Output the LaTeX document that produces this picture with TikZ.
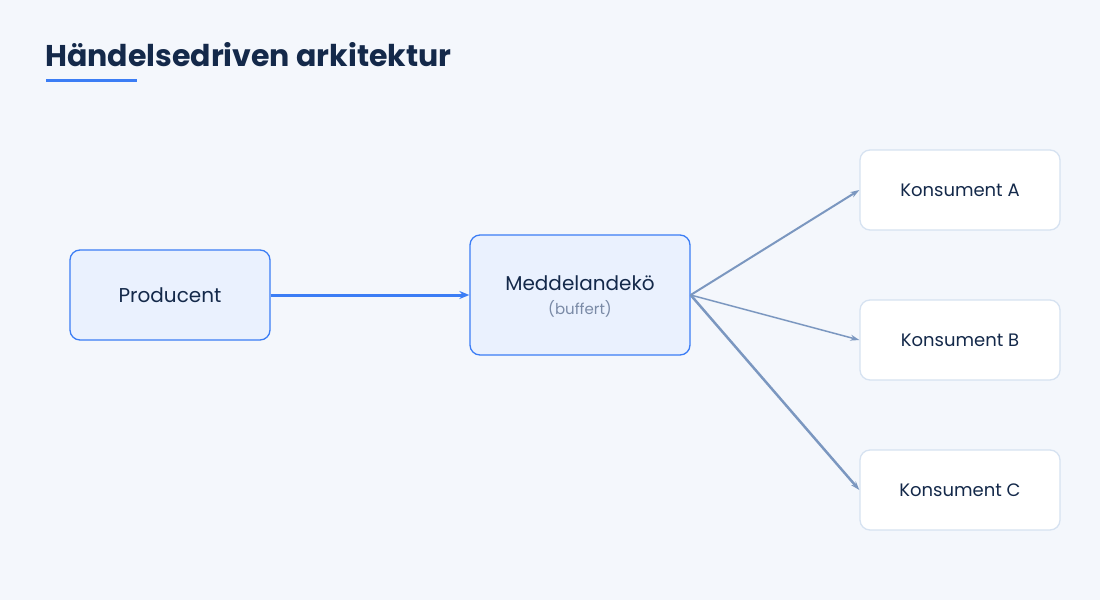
\documentclass[tikz,border=0pt]{standalone}
\usepackage{fontspec}
\setmainfont{Poppins}
\usetikzlibrary{arrows.meta}
\definecolor{bgcol}{HTML}{F4F7FC}
\definecolor{inkcol}{HTML}{14294A}
\definecolor{bluecol}{HTML}{3B7DF5}
\definecolor{bluefill}{HTML}{EAF1FE}
\definecolor{greycol}{HTML}{7A8AA6}
\definecolor{edgecol}{HTML}{7B97C0}
\definecolor{lightcol}{HTML}{D6E2F1}
\tikzset{
  mainbox/.style={draw=bluecol, fill=bluefill, line width=1.3pt, rounded corners=10pt, text=inkcol},
  consbox/.style={draw=lightcol, fill=white, line width=1.3pt, rounded corners=10pt, text=inkcol,
    minimum width=200pt, minimum height=80pt, font=\fontsize{18}{21}\selectfont},
  fanout/.style={draw=edgecol, -{Stealth[length=9pt,width=6pt]}}
}
\begin{document}
\begin{tikzpicture}[x=1pt,y=-1pt]
\fill[bgcol] (0,0) rectangle (1100,600);
\useasboundingbox (0,0) rectangle (1100,600);
\node[anchor=base west, text=inkcol, font=\fontsize{30}{34}\bfseries\selectfont, inner sep=0pt] (title) at (45,66) {Händelsedriven arkitektur};
\fill[bluecol] (46,79) rectangle (137,82);

\node[mainbox, minimum width=200pt, minimum height=90pt, font=\fontsize{20}{24}\selectfont] (prod) at (170,295) {Producent};
\node[mainbox, minimum width=220pt, minimum height=120pt] (queue) at (580,295) {};
\node[text=inkcol, font=\fontsize{20}{24}\selectfont] (qname) at (580,283) {Meddelandekö};
\node[text=greycol, font=\fontsize{15}{18}\selectfont] (qsub) at (580,309) {(buffert)};

\node[consbox] (ka) at (960,190) {Konsument A};
\node[consbox] (kb) at (960,340) {Konsument B};
\node[consbox] (kc) at (960,490) {Konsument C};

\draw[bluecol, line width=3pt, -{Stealth[length=10pt,width=8pt]}] (prod.east) -- (queue.west);
\draw[fanout, line width=2pt] (queue.east) -- (ka.west);
\draw[fanout, line width=1.5pt] (queue.east) -- (kb.west);
\draw[fanout, line width=2.5pt] (queue.east) -- (kc.west);
\end{tikzpicture}
\end{document}
